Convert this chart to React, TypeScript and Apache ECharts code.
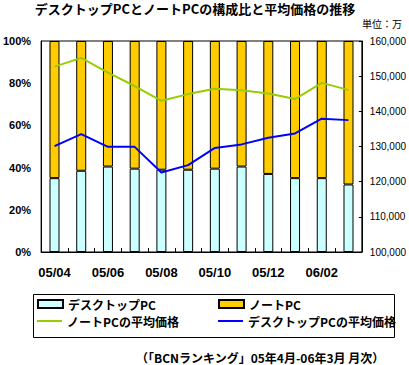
import React, { useEffect, useRef } from "react";
import * as echarts from "echarts";

const categories = ["05/04", "05/05", "05/06", "05/07", "05/08", "05/09", "05/10", "05/11", "05/12", "06/01", "06/02", "06/03"];
const desktopShare = [35, 38.5, 40.5, 39.5, 39, 39, 39.5, 40.5, 37, 35, 35, 32];
const notebookShare = desktopShare.map((v) => Math.round((100 - v) * 10) / 10);
const notebookPrice = [152700, 155200, 151000, 147200, 143000, 144900, 146400, 146000, 145100, 143500, 148100, 146100];
const desktopPrice = [130100, 133500, 129900, 129900, 122600, 124700, 129600, 130600, 132500, 133700, 137900, 137500];

const JP = '"Noto Sans CJK JP", "Noto Sans", sans-serif';
const LAT = '"Liberation Sans", Arial, sans-serif';

export default function App() {
  const ref = useRef<HTMLDivElement>(null);
  useEffect(() => {
    if (!ref.current) return;
    const chart = echarts.init(ref.current, null, { renderer: "svg" });
    const legendBase = {
      orient: "horizontal",
      padding: 0,
      itemWidth: 25,
      textStyle: { fontFamily: JP, fontWeight: "bold", fontSize: 12, color: "#000" },
      selectedMode: false,
    };
    chart.setOption({
      animation: false,
      backgroundColor: "#fff",
      title: [
        {
          text: "デスクトップPCとノートPCの構成比と平均価格の推移",
          left: 195,
          textAlign: "center",
          top: 1,
          padding: 0,
          textStyle: { fontFamily: JP, fontWeight: "bold", fontSize: 13, lineHeight: 14, color: "#000" },
        },
        {
          text: "単位：万",
          left: 362,
          top: 18,
          padding: 0,
          textStyle: { fontFamily: JP, fontWeight: "normal", fontSize: 10, color: "#000" },
        },
        {
          text: "（「BCNランキング」05年4月-06年3月 月次）",
          left: 136,
          top: 351,
          padding: 0,
          textStyle: { fontFamily: JP, fontWeight: "bold", fontSize: 12, lineHeight: 13, color: "#000" },
        },
      ],
      grid: {
        left: 38,
        right: 45,
        top: 41,
        bottom: 113,
        show: true,
        borderColor: "#000",
        borderWidth: 1,
        backgroundColor: "transparent",
      },
      legend: [
        { ...legendBase, left: 37, top: 298, itemHeight: 8, data: [{ name: "デスクトップPC", icon: "rect" }] },
        { ...legendBase, left: 218, top: 298, itemHeight: 8, data: [{ name: "ノートPC", icon: "rect" }] },
        { ...legendBase, left: 37, top: 315, itemHeight: 2, data: [{ name: "ノートPCの平均価格", icon: "rect" }] },
        { ...legendBase, left: 218, top: 315, itemHeight: 2, data: [{ name: "デスクトップPCの平均価格", icon: "rect" }] },
      ],
      graphic: [
        {
          type: "rect",
          shape: { x: 33.5, y: 294.5, width: 361, height: 43 },
          style: { fill: "none", stroke: "#000", lineWidth: 1 },
          silent: true,
        },
      ],
      xAxis: {
        type: "category",
        data: categories,
        boundaryGap: true,
        axisLine: { lineStyle: { color: "#000", width: 1 } },
        axisTick: { show: true, inside: true, length: 4, interval: 0, lineStyle: { color: "#000" } },
        axisLabel: {
          interval: 1,
          margin: 14,
          fontFamily: LAT,
          fontWeight: "bold",
          fontSize: 13,
          color: "#000",
        },
      },
      yAxis: [
        {
          type: "value",
          min: 0,
          max: 100,
          interval: 20,
          axisLine: { show: true, lineStyle: { color: "#000" } },
          axisTick: { show: false },
          splitLine: { show: false },
          axisLabel: {
            formatter: "{value}%",
            margin: 10,
            fontFamily: LAT,
            fontWeight: "bold",
            fontSize: 11,
            color: "#000",
          },
        },
        {
          type: "value",
          min: 100000,
          max: 160000,
          interval: 10000,
          position: "right",
          axisLine: { show: true, lineStyle: { color: "#000" } },
          axisTick: { show: true, inside: true, length: 3, lineStyle: { color: "#000" } },
          splitLine: { show: false },
          axisLabel: {
            formatter: (v: number) => v.toLocaleString("en-US"),
            margin: 8,
            fontFamily: LAT,
            fontSize: 10,
            color: "#000",
          },
        },
      ],
      series: [
        {
          name: "デスクトップPC",
          type: "bar",
          stack: "share",
          barWidth: 10,
          data: desktopShare,
          itemStyle: { color: "#CCFFFF", borderColor: "#000", borderWidth: 1 },
        },
        {
          name: "ノートPC",
          type: "bar",
          stack: "share",
          barWidth: 10,
          data: notebookShare,
          itemStyle: { color: "#FFCC00", borderColor: "#000", borderWidth: 1 },
        },
        {
          name: "ノートPCの平均価格",
          type: "line",
          yAxisIndex: 1,
          data: notebookPrice,
          symbol: "none",
          color: "#99CC00",
          lineStyle: { color: "#99CC00", width: 2 },
          itemStyle: { color: "#99CC00" },
        },
        {
          name: "デスクトップPCの平均価格",
          type: "line",
          yAxisIndex: 1,
          data: desktopPrice,
          symbol: "none",
          color: "#0000FF",
          lineStyle: { color: "#0000FF", width: 2 },
          itemStyle: { color: "#0000FF" },
        },
      ],
    });
    return () => chart.dispose();
  }, []);
  return (
    <div
      ref={ref}
      style={{ position: "absolute", left: 0, top: 0, width: 409, height: 365, background: "#fff" }}
    />
  );
}
